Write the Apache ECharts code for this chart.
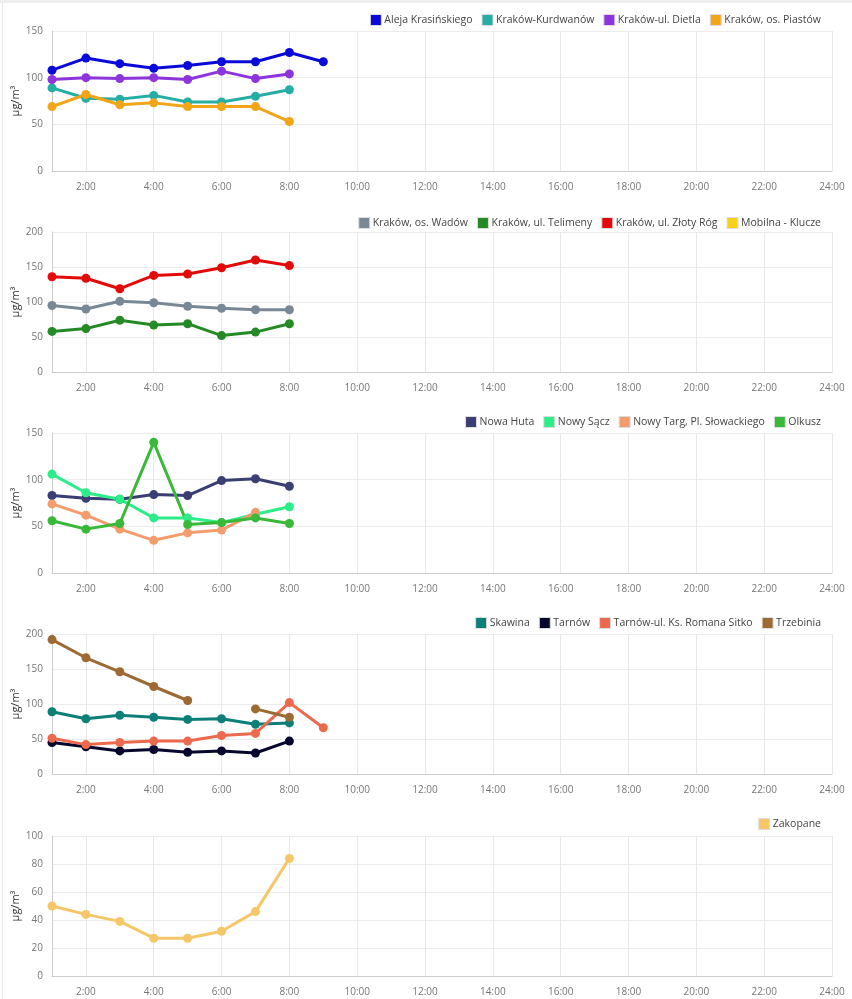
<!DOCTYPE html>
<html>
<head>
<meta charset="utf-8">
<script src="https://cdn.jsdelivr.net/npm/echarts@6/dist/echarts.min.js"></script>
<style>
html,body{margin:0;padding:0;background:#fff;}
#main{position:absolute;left:0;top:0;width:852px;height:999px;}
#topband{position:absolute;left:0;top:0;width:852px;height:3px;background:#eeeeee;}
#leftline{position:absolute;left:2px;top:3px;width:1px;height:996px;background:#e6e6e6;}
</style>
</head>
<body>
<div id="main"></div>
<div id="topband"></div>
<div id="leftline"></div>
<script>
// Hours along the x axis
const hours = [];
for (let h = 1; h <= 24; h++) hours.push(h + ':00');

// Panel 1
const p1Names = ['Aleja Krasińskiego', 'Kraków-Kurdwanów', 'Kraków-ul. Dietla', 'Kraków, os. Piastów'];
const alejaKrasinskiego = [108, 121, 115, 110, 113, 117, 117, 127, 117];
const krakowKurdwanow = [89, 78, 77, 81, 74, 74, 80, 87];
const krakowDietla = [98, 100, 99, 100, 98, 107, 99, 104];
const krakowPiastow = [69, 82, 71, 73, 69, 69, 69, 53];

// Panel 2
const p2Names = ['Kraków, os. Wadów', 'Kraków, ul. Telimeny', 'Kraków, ul. Złoty Róg', 'Mobilna - Klucze'];
const krakowWadow = [95, 90, 101, 99, 94, 91, 89, 89];
const krakowTelimeny = [58, 62, 74, 67, 69, 52, 57, 69];
const krakowZlotyRog = [136, 134, 119, 138, 140, 149, 160, 152];
const mobilnaKlucze = [];

// Panel 3
const p3Names = ['Nowa Huta', 'Nowy Sącz', 'Nowy Targ, Pl. Słowackiego', 'Olkusz'];
const nowaHuta = [83, 80, 79, 84, 83, 99, 101, 93];
const nowySacz = [106, 86, 79, 59, 59, 54, 63, 71];
const nowyTarg = [74, 62, 47, 35, 43, 46, 65];
const olkusz = [56, 47, 53, 140, 52, 54, 59, 53];

// Panel 4
const p4Names = ['Skawina', 'Tarnów', 'Tarnów-ul. Ks. Romana Sitko', 'Trzebinia'];
const skawina = [89, 79, 84, 81, 78, 79, 71, 73];
const tarnow = [45, 39, 33, 35, 31, 33, 30, 47];
const tarnowSitko = [51, 42, 45, 47, 47, 55, 58, 102, 66];
const trzebinia = [192, 166, 146, 125, 105, null, 93, 81];

// Panel 5
const p5Names = ['Zakopane'];
const zakopane = [50, 44, 39, 27, 27, 32, 46, 84];

// y axis ranges
const yMax = [150, 200, 150, 200, 100];
const yStep = [50, 50, 50, 50, 20];

const panels = [
  {names: p1Names, data: [alejaKrasinskiego, krakowKurdwanow, krakowDietla, krakowPiastow],
   colors: ['#0a0ad8', '#26aea4', '#8c35dc', '#f2a516']},
  {names: p2Names, data: [krakowWadow, krakowTelimeny, krakowZlotyRog, mobilnaKlucze],
   colors: ['#7a8896', '#258a25', '#e30a0a', '#f8d21a']},
  {names: p3Names, data: [nowaHuta, nowySacz, nowyTarg, olkusz],
   colors: ['#3a3e72', '#2ced88', '#f39c6e', '#3ab83a']},
  {names: p4Names, data: [skawina, tarnow, tarnowSitko, trzebinia],
   colors: ['#0d7f79', '#07072e', '#ec694e', '#9c6a32']},
  {names: p5Names, data: [zakopane], colors: ['#f6c768']}
];

const gridTops = [31, 232, 433, 634, 836];
const legendTops = [14, 217, 416, 617, 818];
const FONT = '"Open Sans", sans-serif';

const grids = [], xAxes = [], yAxes = [], legends = [], series = [];
panels.forEach((p, i) => {
  grids.push({left: 52, right: 20, top: gridTops[i], height: 140, containLabel: false, outerBoundsMode: 'none'});
  xAxes.push({
    type: 'category', gridIndex: i, data: hours, boundaryGap: false,
    axisLine: {lineStyle: {color: '#cccccc'}},
    axisTick: {show: false},
    axisLabel: {interval: (idx) => idx % 2 === 1, color: '#777', fontSize: 10, fontFamily: FONT, margin: 11},
    splitLine: {show: true, interval: (idx) => idx % 2 === 1, lineStyle: {color: '#e8e8e8'}}
  });
  yAxes.push({
    type: 'value', gridIndex: i, min: 0, max: yMax[i], interval: yStep[i],
    name: 'µg/m³', nameLocation: 'middle', nameGap: 31, nameMoveOverlap: false,
    nameTextStyle: {color: '#333', fontSize: 11, fontFamily: FONT},
    axisLine: {show: true, lineStyle: {color: '#cccccc'}},
    axisTick: {show: false},
    axisLabel: {color: '#777', fontSize: 10, fontFamily: FONT, margin: 9},
    splitLine: {show: true, lineStyle: {color: '#ececec'}}
  });
  legends.push({
    top: legendTops[i], right: 31, padding: 0, itemGap: 9,
    itemWidth: 11, itemHeight: 11, icon: 'rect',
    textStyle: {color: '#444', fontSize: 10.5, fontFamily: FONT, padding: [0, 0, 0, -2]},
    data: p.names.map((n, k) => ({name: n, itemStyle: {color: p.colors[k], borderColor: '#dddddd', borderWidth: 1}}))
  });
  p.names.forEach((n, k) => {
    series.push({
      name: n, type: 'line', xAxisIndex: i, yAxisIndex: i,
      data: p.data[k], connectNulls: false,
      symbol: 'circle', symbolSize: 9, showSymbol: true,
      color: p.colors[k],
      lineStyle: {width: 3, color: p.colors[k]},
      itemStyle: {color: p.colors[k]},
      animation: false
    });
  });
});

const chart = echarts.init(document.getElementById('main'), null, {renderer: 'canvas'});
chart.setOption({
  animation: false,
  grid: grids, xAxis: xAxes, yAxis: yAxes, legend: legends, series: series
});
</script>
</body>
</html>
